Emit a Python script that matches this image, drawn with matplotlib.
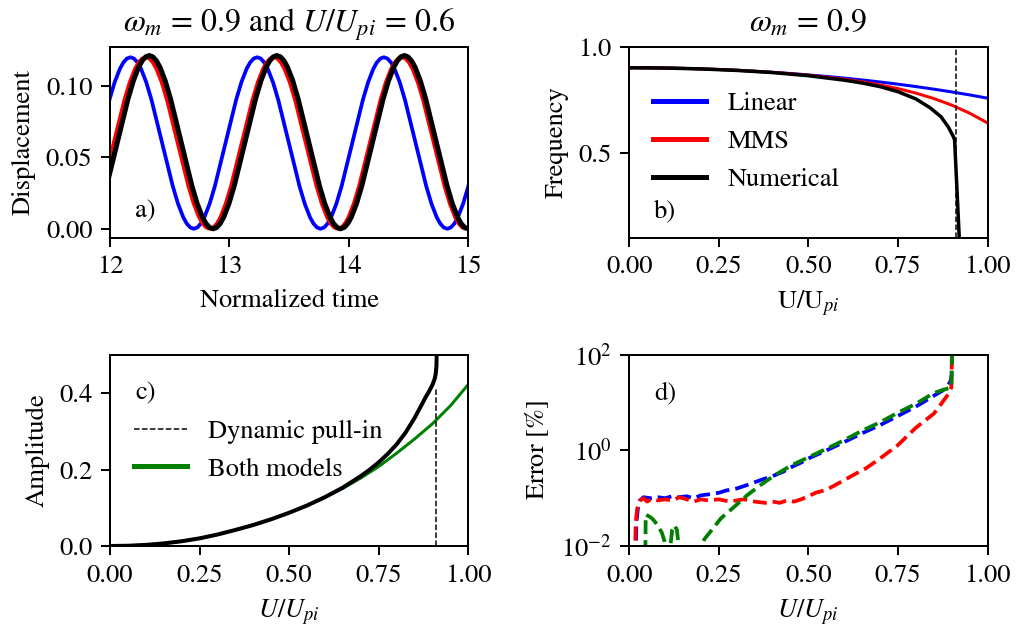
import matplotlib
matplotlib.use("Agg")
import matplotlib.pyplot as plt
from matplotlib.lines import Line2D

plt.rcParams['font.family'] = ['STIXGeneral', 'DejaVu Serif']
plt.rcParams['mathtext.fontset'] = 'stix'
plt.rcParams['font.size'] = 10.6

# ---------------- Panel a: displacement vs normalized time ----------------
t_linear = [11.9063, 11.9947, 12.0389, 12.0831, 12.1126, 12.1420, 12.1715, 12.2010, 12.2304, 12.2599, 12.3041, 12.3483,
            12.4368, 12.5252, 12.5694, 12.6136, 12.6431, 12.6725,
            12.7020, 12.7315, 12.7609, 12.7904, 12.8346, 12.8788, 12.9673, 13.0557, 13.0999, 13.1441, 13.1736, 13.2030,
            13.2325, 13.2620, 13.2914, 13.3209, 13.3651, 13.4093, 13.4978, 13.5862, 13.6304, 13.6746, 13.7041, 13.7335,
            13.7630, 13.7925, 13.8219, 13.8514, 13.8956, 13.9398, 14.0283, 14.1167, 14.1609, 14.2051, 14.2346, 14.2640,
            14.2935, 14.3230, 14.3524, 14.3819, 14.4261, 14.4703, 14.5588, 14.6472, 14.6914, 14.7356, 14.7651, 14.7945,
            14.8240, 14.8535, 14.8829, 14.9124, 14.9566, 15.0008, 15.0893]
x_linear = [.06, .09, .10243, .11196, .11638, .11909, .12, .11909, .11638, .11196, .10243, .09,
            .06, .03, .01757, .00804, .00362, .00091,
            0, .00091, .00362, .00804, .01757, .03, .06, .09, .10243, .11196, .11638, .11909,
            .12, .11909, .11638, .11196, .10243, .09, .06, .03, .01757, .00804, .00362, .00091,
            0, .00091, .00362, .00804, .01757, .03, .06, .09, .10243, .11196, .11638, .11909,
            .12, .11909, .11638, .11196, .10243, .09, .06, .03, .01757, .00804, .00362, .00091,
            0, .00091, .00362, .00804, .01757, .03, .06]

t_mms = [11.9417, 12.0310, 12.1203, 12.1650, 12.2097, 12.2394, 12.2692, 12.2990, 12.3288, 12.3586, 12.3883, 12.4330,
         12.4777, 12.5670, 12.6563, 12.7010, 12.7457, 12.7754, 12.8052,
         12.8350, 12.8648, 12.8946, 12.9243, 12.9690, 13.0137, 13.1030, 13.1923, 13.2370, 13.2817, 13.3114, 13.3412,
         13.3710, 13.4008, 13.4306, 13.4603, 13.5050, 13.5497, 13.6390, 13.7283, 13.7730, 13.8177, 13.8474, 13.8772,
         13.9070, 13.9368, 13.9666, 13.9963, 14.0410, 14.0857, 14.1750, 14.2643, 14.3090, 14.3537, 14.3834, 14.4132,
         14.4430, 14.4728, 14.5026, 14.5323, 14.5770, 14.6217, 14.7110, 14.8003, 14.8450, 14.8897, 14.9194, 14.9492,
         14.9790, 15.0088, 15.0386]
x_mms = [.03, .06, .09, .10243, .11196, .11638, .11909, .12, .11909, .11638, .11196, .10243,
         .09, .06, .03, .01757, .00804, .00362, .00091,
         0, .00091, .00362, .00804, .01757, .03, .06, .09, .10243, .11196, .11638, .11909,
         .12, .11909, .11638, .11196, .10243, .09, .06, .03, .01757, .00804, .00362, .00091,
         0, .00091, .00362, .00804, .01757, .03, .06, .09, .10243, .11196, .11638, .11909,
         .12, .11909, .11638, .11196, .10243, .09, .06, .03, .01757, .00804, .00362, .00091,
         0, .00091, .00362]

t_num = [11.9285, 11.9730, 12.0620, 12.1510, 12.1955, 12.2400, 12.2697, 12.2993, 12.3290, 12.3587, 12.3883, 12.4180,
         12.4625, 12.5070, 12.5960, 12.6850, 12.7295, 12.7740, 12.8037, 12.8333,
         12.8630, 12.8927, 12.9223, 12.9520, 12.9965, 13.0410, 13.1300, 13.2190, 13.2635, 13.3080, 13.3377, 13.3673,
         13.3970, 13.4267, 13.4563, 13.4860, 13.5305, 13.5750, 13.6640, 13.7530, 13.7975, 13.8420, 13.8717, 13.9013,
         13.9310, 13.9607, 13.9903, 14.0200, 14.0645, 14.1090, 14.1980, 14.2870, 14.3315, 14.3760, 14.4057, 14.4353,
         14.4650, 14.4947, 14.5243, 14.5540, 14.5985, 14.6430, 14.7320, 14.8210, 14.8655, 14.9100, 14.9397, 14.9693,
         14.9990, 15.0287]
x_num = [.01775, .0303, .0606, .0909, .10345, .11308, .11755, .12028, .1212, .12028, .11755, .11308,
         .10345, .0909, .0606, .0303, .01775, .00812, .00366, .00092,
         0, .00092, .00366, .00812, .01775, .0303, .0606, .0909, .10345, .11308, .11755, .12028,
         .1212, .12028, .11755, .11308, .10345, .0909, .0606, .0303, .01775, .00812, .00366, .00092,
         0, .00092, .00366, .00812, .01775, .0303, .0606, .0909, .10345, .11308, .11755, .12028,
         .1212, .12028, .11755, .11308, .10345, .0909, .0606, .0303, .01775, .00812, .00366, .00092,
         0, .00092]

# ---------------- Panel b: frequency vs U/Upi ----------------
u_freq = [0, 0.05, 0.1, 0.15, 0.2, 0.25, 0.3, 0.35, 0.4, 0.45, 0.5, 0.55, 0.6, 0.65, 0.7, 0.75, 0.8, 0.85, 0.9, 0.95, 1.0]
freq_linear = [0.9, 0.8997, 0.8987, 0.8970, 0.8947, 0.8917, 0.8881, 0.8837, 0.8787, 0.8729, 0.8664, 0.8592, 0.8512,
               0.8425, 0.8329, 0.8225, 0.8112, 0.7991, 0.7860, 0.7719, 0.7567]
freq_mms = [0.9, 0.8997, 0.8987, 0.8970, 0.8947, 0.8917, 0.8880, 0.8835, 0.8782, 0.8719, 0.8646, 0.8560, 0.8457,
            0.8337, 0.8191, 0.8017, 0.7805, 0.7550, 0.7238, 0.6859, 0.6397]
u_freq_num = [0, 0.1, 0.2, 0.3, 0.4, 0.5, 0.6, 0.65, 0.7, 0.75, 0.8, 0.84, 0.87, 0.89, 0.90, 0.905, 0.908,
              0.911, 0.915, 0.918, 0.921, 0.923]
freq_num = [0.9, 0.8986, 0.8944, 0.8874, 0.8772, 0.8625, 0.8415, 0.828, 0.811, 0.787, 0.753, 0.711, 0.669, 0.622,
            0.590, 0.574, 0.560, 0.454, 0.312, 0.206, 0.10, 0.03]
u_pullin = 0.911

# ---------------- Panel c: amplitude vs U/Upi ----------------
u_amp = [0, 0.05, 0.1, 0.15, 0.2, 0.25, 0.3, 0.35, 0.4, 0.45, 0.5, 0.55, 0.6, 0.65, 0.7, 0.75, 0.8, 0.85, 0.9, 0.95, 1.0]
amp_models = [0, 0.0006, 0.0028, 0.0067, 0.0124, 0.020, 0.030, 0.042, 0.055, 0.070, 0.087, 0.106, 0.127, 0.151,
              0.178, 0.208, 0.243, 0.280, 0.320, 0.367, 0.423]
u_amp_num = [0, 0.05, 0.1, 0.15, 0.2, 0.25, 0.3, 0.35, 0.4, 0.45, 0.5, 0.55, 0.6, 0.65, 0.7, 0.725, 0.75, 0.775,
             0.8, 0.825, 0.85, 0.87, 0.88, 0.89, 0.9, 0.906, 0.909, 0.911, 0.912]
amp_num = [0, 0.0006, 0.0028, 0.0067, 0.0124, 0.020, 0.030, 0.042, 0.055, 0.070, 0.087, 0.106, 0.128, 0.153,
           0.183, 0.200, 0.219, 0.241, 0.266, 0.297, 0.335, 0.370, 0.388, 0.404, 0.422, 0.437, 0.450, 0.470, 0.510]
amp_pullin_top = 0.41

# ---------------- Panel d: error vs U/Upi ----------------
u_err_linear = [0.018, 0.02, 0.025, 0.03, 0.04, 0.06, 0.08, 0.10, 0.12, 0.14, 0.16, 0.18, 0.20, 0.22, 0.25, 0.27,
                0.30, 0.33, 0.36, 0.38, 0.40, 0.43, 0.45, 0.48, 0.50, 0.55, 0.60, 0.65, 0.70, 0.75, 0.80, 0.85,
                0.875, 0.89, 0.898, 0.900, 0.901]
err_linear = [0.005, 0.03, 0.07, 0.09, 0.105, 0.10, 0.105, 0.10, 0.11, 0.105, 0.11, 0.10, 0.115, 0.12, 0.13, 0.145,
              0.16, 0.19, 0.23, 0.26, 0.29, 0.36, 0.44, 0.56, 0.68, 1.0, 1.5, 2.3, 3.4, 5.3, 8.3, 14,
              18, 23, 30, 40, 150]
u_err_mms = [0.016, 0.018, 0.022, 0.03, 0.04, 0.05, 0.06, 0.08, 0.10, 0.12, 0.14, 0.16, 0.18, 0.20, 0.22, 0.25,
             0.28, 0.30, 0.32, 0.35, 0.38, 0.40, 0.42, 0.44, 0.46, 0.48, 0.50, 0.52, 0.55, 0.57, 0.60, 0.63,
             0.66, 0.70, 0.75, 0.80, 0.85, 0.875, 0.89, 0.899, 0.901]
err_mms = [0.005, 0.03, 0.06, 0.09, 0.10, 0.085, 0.095, 0.09, 0.095, 0.09, 0.105, 0.095, 0.085, 0.095, 0.09, 0.095,
           0.085, 0.09, 0.095, 0.085, 0.08, 0.085, 0.08, 0.09, 0.085, 0.095, 0.11, 0.13, 0.15, 0.18, 0.24, 0.32,
           0.42, 0.68, 1.3, 3.0, 5.9, 10.5, 15, 21, 150]
u_err_both = [0.044, 0.046, 0.055, 0.065, 0.072, 0.082, 0.091, 0.098, 0.103, 0.105, 0.113, 0.115, 0.12, 0.126,
              0.133, 0.138, 0.14, 0.19, 0.197, 0.21, 0.229, 0.256, 0.293, 0.33, 0.367, 0.405, 0.453, 0.50, 0.55,
              0.60, 0.65, 0.70, 0.75, 0.80, 0.85, 0.875, 0.89, 0.899, 0.901]
err_both = [0.001, 0.045, 0.042, 0.037, 0.032, 0.025, 0.019, 0.013, 0.006, 0.001, 0.001, 0.01, 0.022, 0.027,
            0.022, 0.01, 0.001, 0.001, 0.008, 0.014, 0.021, 0.038, 0.066, 0.117, 0.19, 0.30, 0.49, 0.72, 1.08,
            1.65, 2.6, 3.9, 6.2, 9.5, 16, 18.5, 20, 21, 150]

# ---------------- Figure ----------------
fig, axes = plt.subplots(2, 2, figsize=(1022 / 180, 632 / 180), dpi=180)
fig.subplots_adjust(left=0.1076, right=0.9663, top=0.9264, bottom=0.1361, wspace=0.449, hspace=0.615)
ax_a, ax_b = axes[0]
ax_c, ax_d = axes[1]

# a)
ax_a.plot(t_linear, x_linear, color='blue', lw=1.5)
ax_a.plot(t_mms, x_mms, color='red', lw=1.5)
ax_a.plot(t_num, x_num, color='black', lw=2.0)
ax_a.set_xlim(12, 15)
ax_a.set_ylim(-0.0061, 0.1275)
ax_a.set_xticks([12, 13, 14, 15])
ax_a.set_yticks([0.0, 0.05, 0.10])
ax_a.set_xlabel('Normalized time')
ax_a.set_ylabel('Displacement')
ax_a.set_title(r'$\omega_m\,=\,0.9$ and $U/U_{pi}\,=\,0.6$')
ax_a.text(0.07, 0.105, 'a)', transform=ax_a.transAxes)

# b)
ax_b.plot(u_freq, freq_linear, color='blue', lw=1.2, label='Linear')
ax_b.plot(u_freq, freq_mms, color='red', lw=1.2, label='MMS')
ax_b.plot(u_freq_num, freq_num, color='black', lw=1.4, label='Numerical')
ax_b.axvline(u_pullin, color='black', ls='--', lw=0.6)
ax_b.set_xlim(0, 1)
ax_b.set_ylim(0.1, 1.0)
ax_b.set_yticks([0.5, 1.0])
ax_b.set_xticks([0, 0.25, 0.5, 0.75, 1.0])
ax_b.set_xlabel(r'U/U$_{pi}$')
ax_b.set_ylabel('Frequency')
ax_b.set_title(r'$\omega_m\,=\,0.9$')
ax_b.text(0.07, 0.105, 'b)', transform=ax_b.transAxes)
leg = ax_b.legend(loc='center left', frameon=False)
for h in leg.get_lines():
    h.set_linewidth(2.0)

# c)
ax_c.plot(u_amp, amp_models, color='green', lw=1.2)
ax_c.plot(u_amp_num, amp_num, color='black', lw=1.6)
ax_c.vlines(u_pullin, 0, amp_pullin_top, colors='black', linestyles='--', lw=0.6)
ax_c.set_xlim(0, 1)
ax_c.set_ylim(0, 0.5)
ax_c.set_yticks([0.0, 0.2, 0.4])
ax_c.set_xticks([0, 0.25, 0.5, 0.75, 1.0])
ax_c.set_xlabel(r'$U/U_{pi}$')
ax_c.set_ylabel('Amplitude')
ax_c.text(0.07, 0.765, 'c)', transform=ax_c.transAxes)
handles_c = [Line2D([], [], color='black', ls='--', lw=0.6),
             Line2D([], [], color='green', lw=2.0)]
ax_c.legend(handles_c, ['Dynamic pull-in', 'Both models'], loc='center left', frameon=False)

# d)
ax_d.plot(u_err_linear, err_linear, color='blue', ls='--', lw=1.5)
ax_d.plot(u_err_mms, err_mms, color='red', ls='--', lw=1.5)
ax_d.plot(u_err_both, err_both, color='green', ls='--', lw=1.5)
ax_d.set_yscale('log')
ax_d.set_xlim(0, 1)
ax_d.set_ylim(1e-2, 1e2)
ax_d.set_yticks([1e-2, 1e0, 1e2])
ax_d.yaxis.set_minor_locator(matplotlib.ticker.NullLocator())
ax_d.set_xticks([0, 0.25, 0.5, 0.75, 1.0])
ax_d.set_xlabel(r'$U/U_{pi}$')
ax_d.set_ylabel(r'Error [$\%$]')
ax_d.text(0.07, 0.765, 'd)', transform=ax_d.transAxes)

fig.savefig('out.png', dpi=180)
